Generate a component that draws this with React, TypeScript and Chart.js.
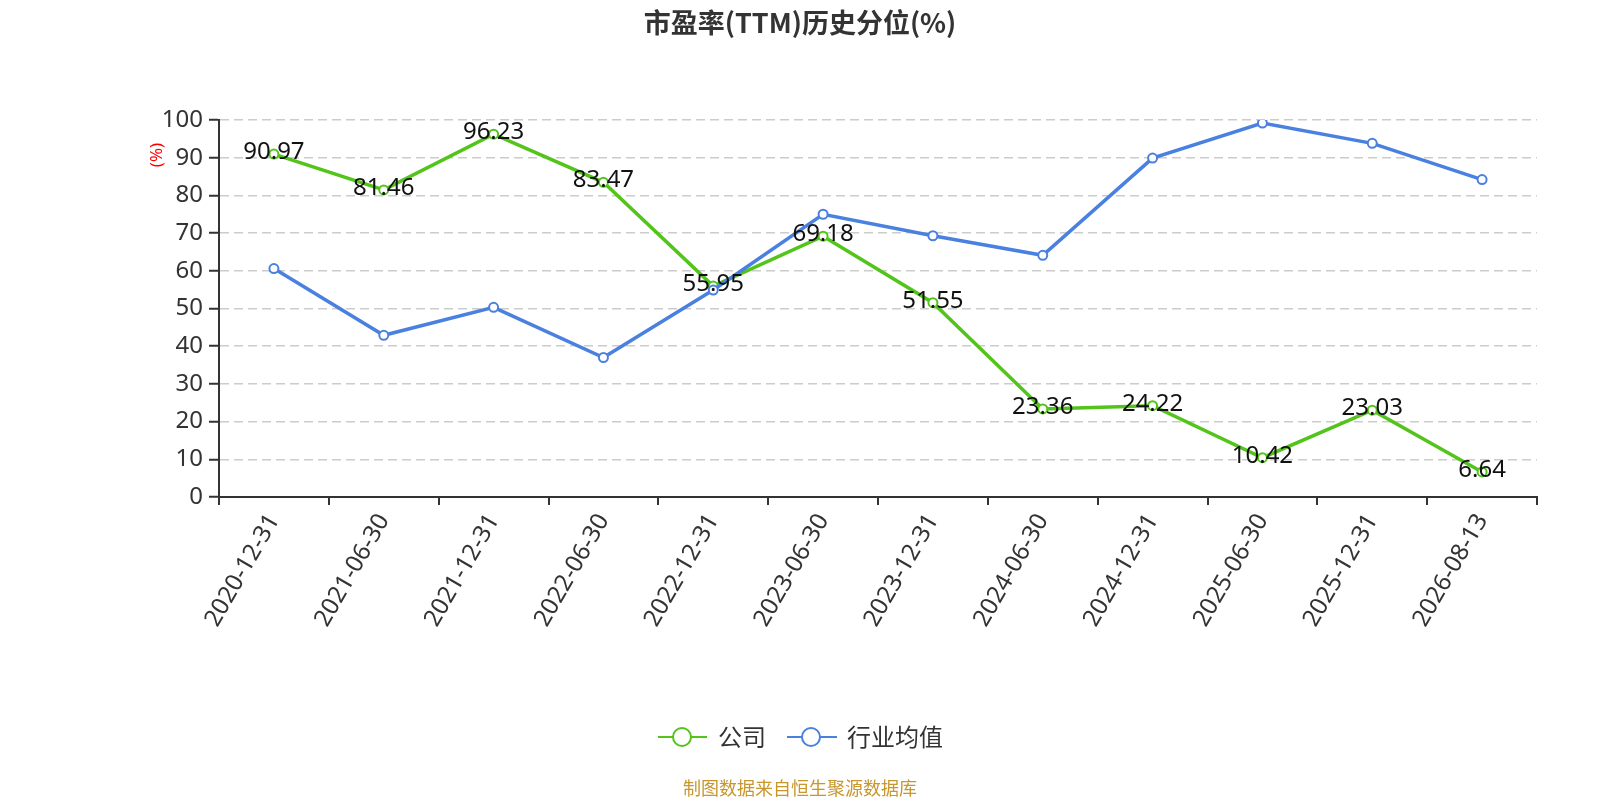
import { useEffect, useRef } from 'react'
import { Chart, registerables, ChartConfiguration, Plugin } from 'chart.js'

Chart.register(...registerables)

const dates = [
  '2020-12-31', '2021-06-30', '2021-12-31', '2022-06-30', '2022-12-31', '2023-06-30',
  '2023-12-31', '2024-06-30', '2024-12-31', '2025-06-30', '2025-12-31', '2026-08-13',
]
const companyValues = [90.97, 81.46, 96.23, 83.47, 55.95, 69.18, 51.55, 23.36, 24.22, 10.42, 23.03, 6.64]
const industryValues = [60.6, 42.9, 50.3, 37.0, 54.9, 75.0, 69.3, 64.1, 89.9, 99.2, 93.8, 84.2]
const yTicks = [0, 10, 20, 30, 40, 50, 60, 70, 80, 90, 100]

const GREEN = '#52c41a'
const BLUE = '#4a80e0'
const FONT = '"Noto Sans", "Noto Sans CJK SC", sans-serif'
const CJK = '"Noto Sans CJK SC", "Noto Sans", sans-serif'

// title, y-axis unit, value labels, legend and source text
const decorations: Plugin<'line'> = {
  id: 'decorations',
  afterDatasetsDraw(chart) {
    const ctx = chart.ctx
    ctx.save()
    // value labels on the company series
    const meta = chart.getDatasetMeta(0)
    ctx.font = `24px ${FONT}`
    ctx.fillStyle = '#111'
    ctx.textAlign = 'center'
    ctx.textBaseline = 'middle'
    meta.data.forEach((pt, i) => {
      ctx.fillText(companyValues[i].toFixed(2), pt.x, pt.y - 2)
    })
    ctx.restore()
  },
  afterDraw(chart) {
    const ctx = chart.ctx
    ctx.save()
    // title
    ctx.font = `bold 27px ${CJK}`
    ctx.fillStyle = '#333'
    ctx.textAlign = 'center'
    ctx.textBaseline = 'middle'
    ctx.fillText('市盈率(TTM)历史分位(%)', 800, 23)

    // y unit
    ctx.save()
    ctx.translate(157, 155)
    ctx.rotate(-Math.PI / 2)
    ctx.font = `17px ${FONT}`
    ctx.fillStyle = '#ff0000'
    ctx.fillText('(%)', 0, 0)
    ctx.restore()

    // legend
    const items = [
      { label: '公司', color: GREEN, x0: 658, x1: 707, cx: 682, tx: 718 },
      { label: '行业均值', color: BLUE, x0: 787, x1: 837, cx: 811, tx: 847 },
    ]
    const ly = 737
    items.forEach((it) => {
      ctx.strokeStyle = it.color
      ctx.lineWidth = 2
      ctx.beginPath()
      ctx.moveTo(it.x0, ly)
      ctx.lineTo(it.x1, ly)
      ctx.stroke()
      ctx.beginPath()
      ctx.arc(it.cx, ly, 9, 0, Math.PI * 2)
      ctx.fillStyle = '#fff'
      ctx.fill()
      ctx.stroke()
      ctx.font = `24px ${CJK}`
      ctx.fillStyle = '#333'
      ctx.textAlign = 'left'
      ctx.fillText(it.label, it.tx, ly)
    })

    // source
    ctx.font = `18px ${CJK}`
    ctx.fillStyle = '#c8962c'
    ctx.textAlign = 'center'
    ctx.fillText('制图数据来自恒生聚源数据库', 800, 788)
    ctx.restore()
  },
}

export default function App() {
  const chartRef = useRef<HTMLCanvasElement>(null)
  const chartInstance = useRef<Chart | null>(null)

  useEffect(() => {
    if (chartRef.current) {
      const ctx = chartRef.current.getContext('2d')
      if (ctx) {
        if (chartInstance.current) {
          chartInstance.current.destroy()
        }

        const config: ChartConfiguration<'line'> = {
          type: 'line',
          data: {
            labels: dates,
            datasets: [
              {
                label: '公司',
                data: companyValues,
                borderColor: GREEN,
                backgroundColor: '#fff',
                borderWidth: 3.5,
                pointRadius: 4.5,
                pointBorderWidth: 2,
                pointBackgroundColor: '#fff',
                pointBorderColor: GREEN,
                tension: 0,
                order: 1,
              },
              {
                label: '行业均值',
                data: industryValues,
                borderColor: BLUE,
                backgroundColor: '#fff',
                borderWidth: 3.5,
                pointRadius: 4.5,
                pointBorderWidth: 2,
                pointBackgroundColor: '#fff',
                pointBorderColor: BLUE,
                tension: 0,
                order: 0,
              },
            ],
          },
          options: {
            animation: false,
            responsive: true,
            maintainAspectRatio: false,
            layout: { padding: { top: 120, right: 63, left: 0, bottom: 0 } },
            plugins: {
              legend: { display: false },
              title: { display: false },
              tooltip: { enabled: false },
            },
            scales: {
              x: {
                offset: true,
                grid: {
                  offset: true,
                  drawOnChartArea: false,
                  drawTicks: true,
                  tickLength: 8,
                  tickColor: '#333',
                  lineWidth: 2,
                },
                border: { display: true, color: '#333', width: 2 },
                ticks: {
                  autoSkip: false,
                  maxRotation: 60,
                  minRotation: 60,
                  color: '#333',
                  font: { size: 24, family: FONT },
                  padding: 4,
                },
                afterFit(scale) {
                  scale.height = 303
                },
              },
              y: {
                min: 0,
                max: 100,
                afterBuildTicks(scale) {
                  scale.ticks = yTicks.map((v) => ({ value: v }))
                },
                grid: {
                  color: '#cccccc',
                  lineWidth: 1.5,
                  tickLength: 10,
                  tickColor: '#333',
                  tickWidth: 2,
                },
                border: { display: true, color: '#333', width: 2, dash: [9, 5] },
                ticks: {
                  color: '#333',
                  font: { size: 24, family: FONT },
                  padding: 6,
                },
                afterFit(scale) {
                  scale.width = 219
                },
              },
            },
          },
          plugins: [decorations],
        }

        chartInstance.current = new Chart(ctx, config)
      }
    }

    return () => {
      if (chartInstance.current) {
        chartInstance.current.destroy()
      }
    }
  }, [])

  return (
    <div style={{ position: 'fixed', left: 0, top: 0, width: 1600, height: 800, background: '#fff' }}>
      <canvas ref={chartRef}></canvas>
    </div>
  )
}
